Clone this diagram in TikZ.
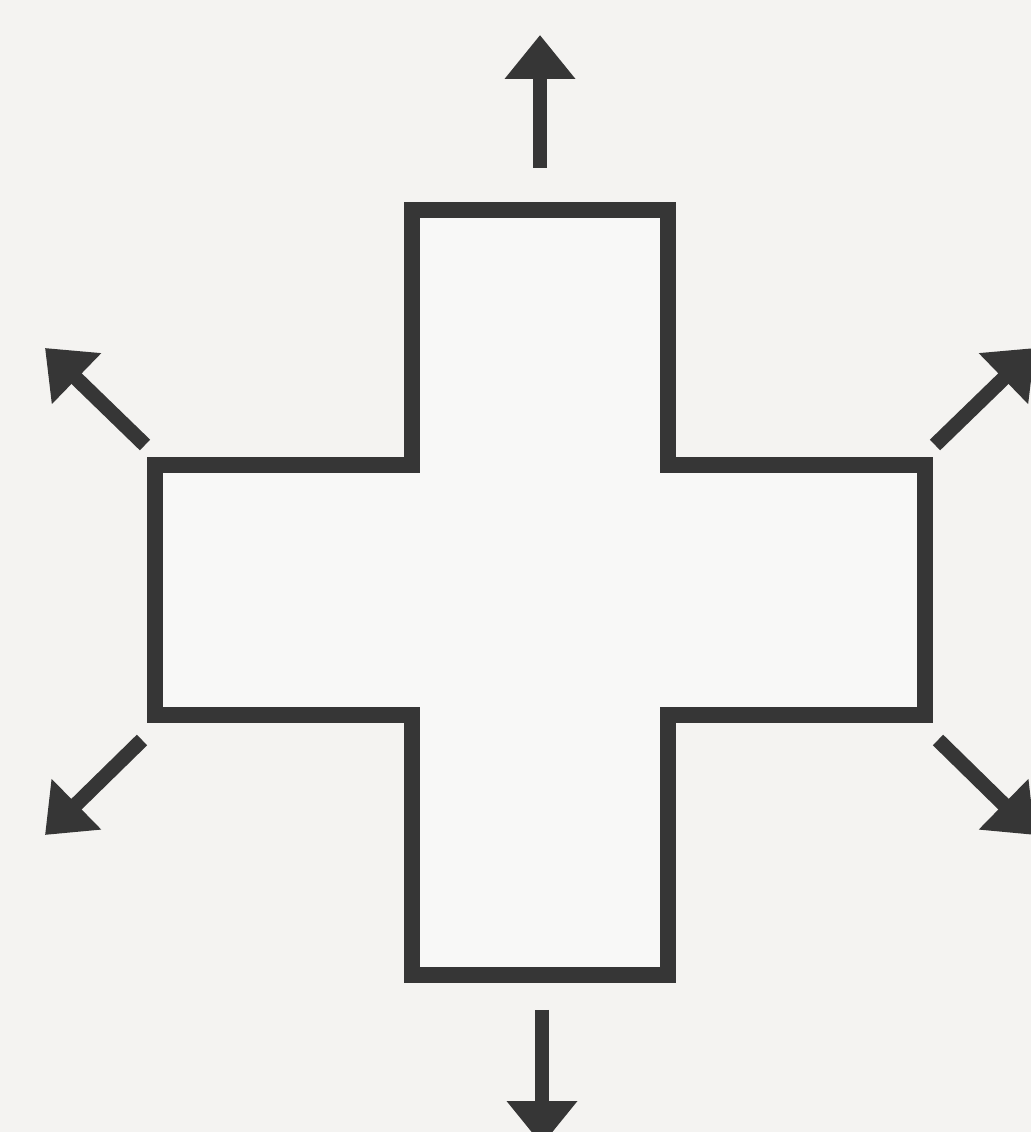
\documentclass[tikz,border=0pt]{standalone}
\usetikzlibrary{arrows.meta}
\definecolor{inkgray}{HTML}{363636}
\definecolor{paper}{HTML}{F4F3F1}

\begin{document}
\begin{tikzpicture}[
  outline/.style={draw=inkgray, line width=4.6pt, line join=miter},
  push/.style={-{Triangle[length=4.4mm, width=6.8mm]}, draw=inkgray,
               line width=4.2pt},
]
\useasboundingbox[fill=paper] (0,0) rectangle (10.31,11.32);
% the plus shape
\draw[outline, fill=paper!60!white]
  (4.12,9.22) -- (6.68,9.22) -- (6.68,6.67) -- (9.25,6.67)
  -- (9.25,4.17) -- (6.68,4.17) -- (6.68,1.57) -- (4.12,1.57)
  -- (4.12,4.17) -- (1.55,4.17) -- (1.55,6.67) -- (4.12,6.67) -- cycle;
% where the arrows start and end
\coordinate (upS) at (5.40,9.64);   \coordinate (upE) at (5.40,10.97);
\coordinate (dnS) at (5.42,1.22);   \coordinate (dnE) at (5.42,-0.13);
\coordinate (ulS) at (1.45,6.87);   \coordinate (ulE) at (0.45,7.84);
\coordinate (urS) at (9.35,6.87);   \coordinate (urE) at (10.35,7.84);
\coordinate (llS) at (1.42,3.92);   \coordinate (llE) at (0.45,2.97);
\coordinate (lrS) at (9.38,3.92);   \coordinate (lrE) at (10.35,2.97);
\foreach \a in {up,dn,ul,ur,ll,lr}
  \draw[push] (\a S) -- (\a E);
\end{tikzpicture}
\end{document}
